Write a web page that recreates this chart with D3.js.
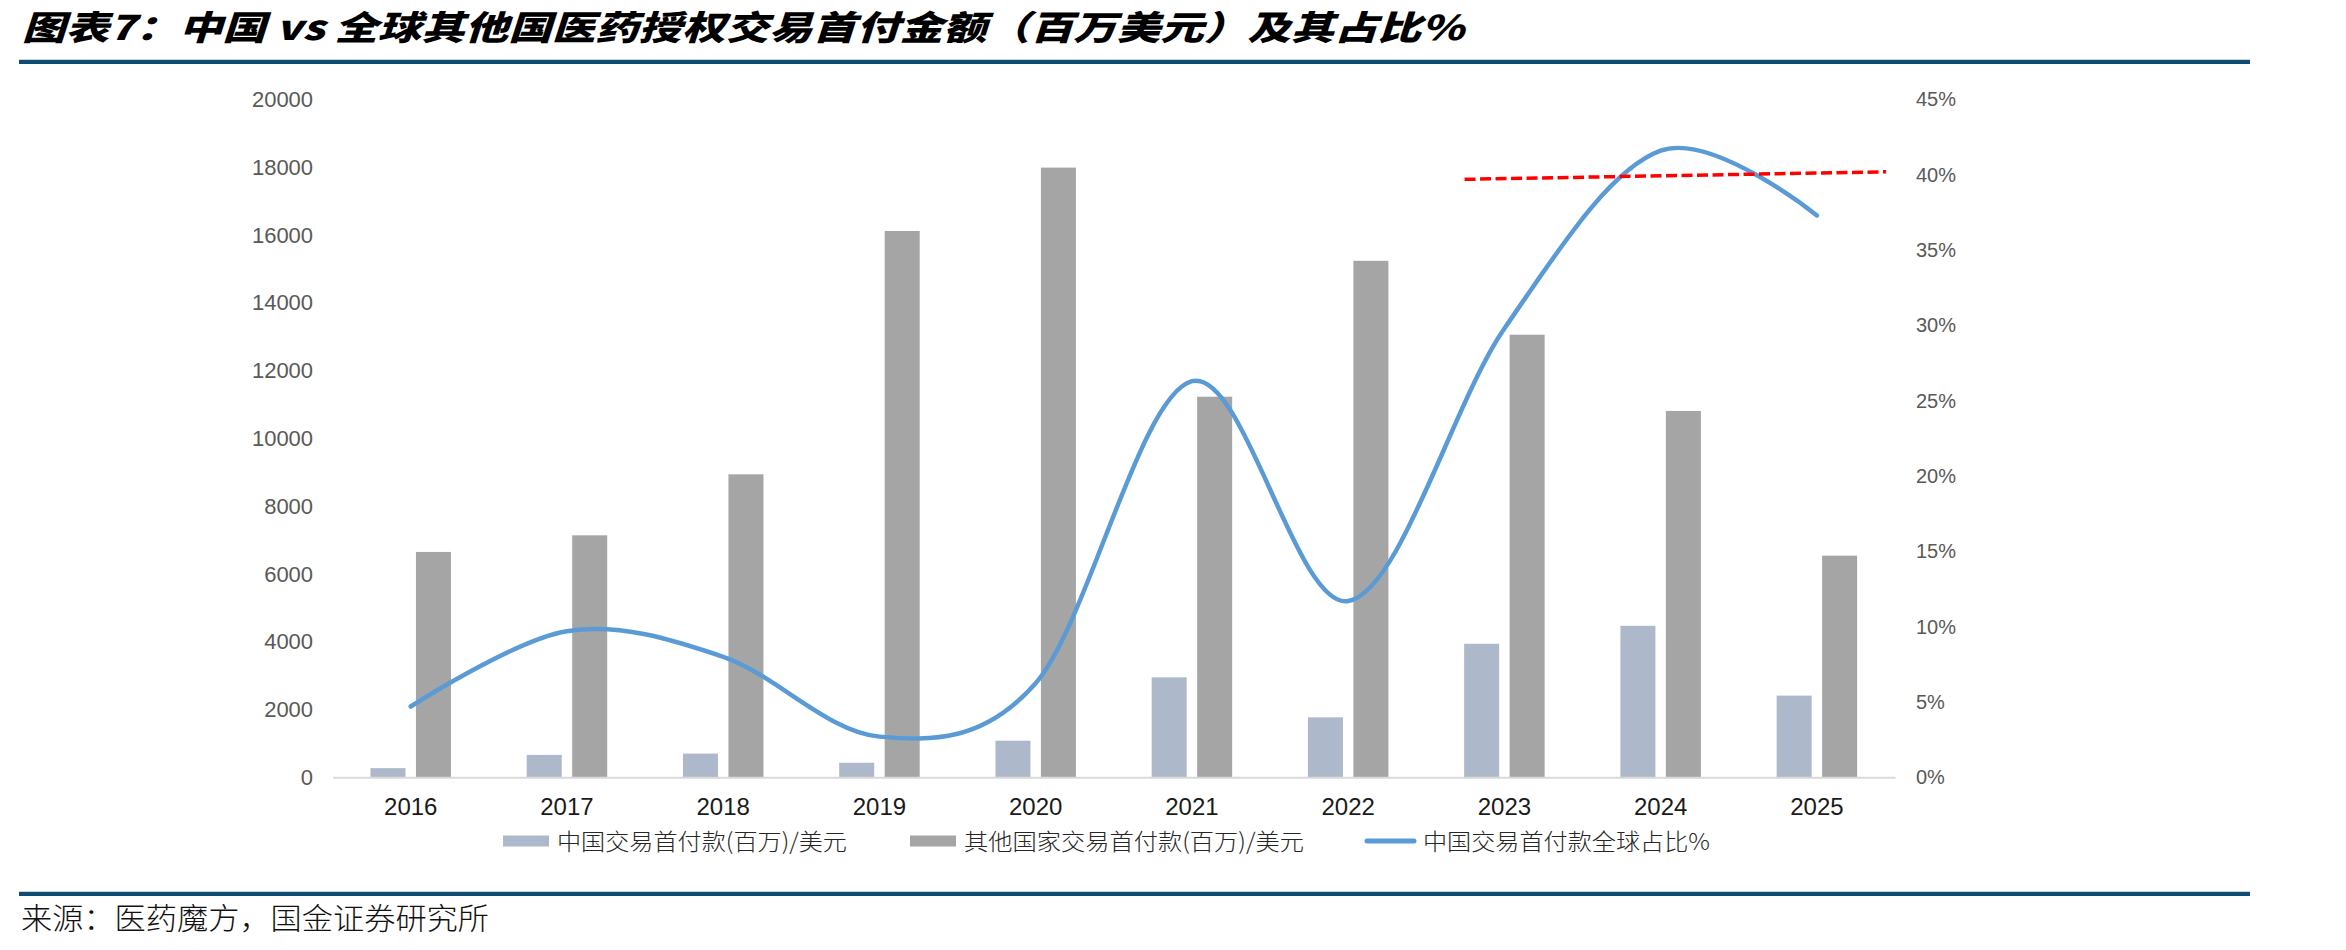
<!DOCTYPE html>
<html>
<head>
<meta charset="utf-8">
<script src="https://cdn.jsdelivr.net/npm/d3@7/dist/d3.min.js"></script>
<style>
  html, body { margin: 0; padding: 0; background: #fff; }
  svg { display: block; }
</style>
</head>
<body>
<div id="chart"></div>
<script>
// data
const years = ["2016", "2017", "2018", "2019", "2020", "2021", "2022", "2023", "2024", "2025"];
const chinaUpfront = [270, 660, 700, 430, 1080, 2950, 1770, 3940, 4470, 2410];
const otherUpfront = [6650, 7140, 8940, 16120, 17990, 11230, 15240, 13060, 10810, 6540];
const chinaShare = [4.7, 9.7, 8.0, 2.7, 6.25, 26.3, 11.7, 29.8, 41.6, 37.3];
const leftTicks = [0, 2000, 4000, 6000, 8000, 10000, 12000, 14000, 16000, 18000, 20000];
const rightTicks = [0, 5, 10, 15, 20, 25, 30, 35, 40, 45];
// red dashed reference line, position in category units (0 = first year centre)
const refLinePos = [6.745, 9.443];
const refLineValues = [39.7, 40.2];
const seriesNames = ["中国交易首付款(百万)/美元", "其他国家交易首付款(百万)/美元", "中国交易首付款全球占比%"];
const titleText = "图表7：中国 vs 全球其他国医药授权交易首付金额（百万美元）及其占比%";
const sourceText = "来源：医药魔方，国金证券研究所";

const colors = { china: "#adb9ca", other: "#a5a5a5", line: "#5b9bd5", ref: "#ff0000", rule: "#0f4b73" };

const W = 2346, H = 950;
const plot = { left: 332.6, right: 1895, top: 99.5, bottom: 777.3 };

const svg = d3.select("#chart").append("svg")
  .attr("width", W)
  .attr("height", H)
  .style("font-family", "'Liberation Sans', Arial, sans-serif");

// title + rules
svg.append("text")
  .attr("x", 22)
  .attr("y", 40)
  .attr("textLength", 1442)
  .attr("lengthAdjust", "spacingAndGlyphs")
  .style("font-family", "'Noto Sans CJK SC', sans-serif")
  .style("font-weight", 900)
  .style("font-style", "italic")
  .style("font-size", "34px")
  .attr("fill", "#000")
  .text(titleText);

[60, 892].forEach(y => {
  svg.append("rect").attr("x", 19).attr("y", y - 1).attr("width", 2231).attr("height", 1).attr("fill", "#c9d6e0");
  svg.append("rect").attr("x", 19).attr("y", y).attr("width", 2231).attr("height", 4).attr("fill", colors.rule);
});

svg.append("text")
  .attr("x", 21)
  .attr("y", 929)
  .attr("textLength", 468)
  .attr("lengthAdjust", "spacingAndGlyphs")
  .style("font-family", "'Noto Sans CJK SC', sans-serif")
  .style("font-weight", 300)
  .style("font-size", "30px")
  .attr("fill", "#111")
  .text(sourceText);

// scales
const x = d3.scaleBand().domain(years).range([plot.left, plot.right]).padding(0);
const xIdx = d3.scaleLinear().domain([0, years.length - 1])
  .range([x(years[0]) + x.bandwidth() / 2, x(years[years.length - 1]) + x.bandwidth() / 2]);
const yL = d3.scaleLinear().domain([0, 20000]).range([plot.bottom, plot.top]);
const yR = d3.scaleLinear().domain([0, 45]).range([plot.bottom, plot.top]);
const sub = d3.scaleBand().domain(["china", "other"]).range([0, 80.5]).paddingInner(0.23);

// axes
const leftAxis = svg.append("g")
  .attr("transform", `translate(${plot.left},0)`)
  .call(d3.axisLeft(yL).tickValues(leftTicks).tickSize(0).tickPadding(19.5).tickFormat(d3.format("d")));
leftAxis.select(".domain").remove();
leftAxis.selectAll("text")
  .style("font-size", "22px")
  .style("font-family", "'Liberation Sans', Arial, sans-serif")
  .attr("fill", "#595959");

const rightAxis = svg.append("g")
  .attr("transform", `translate(${plot.right},0)`)
  .call(d3.axisRight(yR).tickValues(rightTicks).tickSize(0).tickPadding(21).tickFormat(d => d + "%"));
rightAxis.select(".domain").remove();
rightAxis.selectAll("text")
  .style("font-size", "20px")
  .style("font-family", "'Liberation Sans', Arial, sans-serif")
  .attr("fill", "#595959");

// bars
const groups = svg.append("g").selectAll("g")
  .data(years)
  .join("g")
  .attr("transform", d => `translate(${x(d) + x.bandwidth() / 2 - 40.25},0)`);

groups.append("rect")
  .attr("x", sub("china"))
  .attr("width", sub.bandwidth())
  .attr("y", (d, i) => yL(chinaUpfront[i]))
  .attr("height", (d, i) => yL(0) - yL(chinaUpfront[i]))
  .attr("fill", colors.china);

groups.append("rect")
  .attr("x", sub("other"))
  .attr("width", sub.bandwidth())
  .attr("y", (d, i) => yL(otherUpfront[i]))
  .attr("height", (d, i) => yL(0) - yL(otherUpfront[i]))
  .attr("fill", colors.other);

const bottomAxis = svg.append("g")
  .attr("transform", `translate(0,${plot.bottom})`)
  .call(d3.axisBottom(x).tickSize(0).tickSizeOuter(0).tickPadding(21));
bottomAxis.select(".domain").attr("stroke", "#d9d9d9").attr("stroke-width", 2);
bottomAxis.selectAll("text")
  .style("font-size", "24px")
  .style("font-family", "'Liberation Sans', Arial, sans-serif")
  .attr("fill", "#1a1a1a");

// smoothed share line
const line = d3.line()
  .x((d, i) => x(years[i]) + x.bandwidth() / 2)
  .y(d => yR(d))
  .curve(d3.curveCardinal.tension(0));

svg.append("path")
  .datum(chinaShare)
  .attr("fill", "none")
  .attr("stroke", colors.line)
  .attr("stroke-width", 4.5)
  .attr("stroke-linecap", "round")
  .attr("d", line);

// red dashed reference line
const refLine = d3.line()
  .x((d, i) => xIdx(refLinePos[i]))
  .y(d => yR(d));

svg.append("path")
  .datum(refLineValues)
  .attr("fill", "none")
  .attr("stroke", colors.ref)
  .attr("stroke-width", 3.5)
  .attr("stroke-dasharray", "11,4.5")
  .attr("d", refLine);

// legend
const legendY = 841;
const legendX = [503, 910, 1365];
const legendTextW = [290, 340, 287];
const legend = svg.append("g");

seriesNames.forEach((name, i) => {
  const item = legend.append("g").attr("transform", `translate(${legendX[i]},${legendY})`);
  if (i < 2) {
    item.append("rect")
      .attr("x", 0).attr("y", -5.5)
      .attr("width", 46).attr("height", 11)
      .attr("fill", i === 0 ? colors.china : colors.other);
  } else {
    item.append("line")
      .attr("x1", 2).attr("x2", 49)
      .attr("y1", 0).attr("y2", 0)
      .attr("stroke", colors.line)
      .attr("stroke-width", 5)
      .attr("stroke-linecap", "round");
  }
  item.append("text")
    .attr("x", i < 2 ? 54 : 58)
    .attr("y", 8.5)
    .attr("textLength", legendTextW[i])
    .attr("lengthAdjust", "spacingAndGlyphs")
    .style("font-family", "'Noto Sans CJK SC', sans-serif")
    .style("font-weight", 300)
    .style("font-size", "23px")
    .attr("fill", "#262626")
    .text(name);
});
</script>
</body>
</html>
